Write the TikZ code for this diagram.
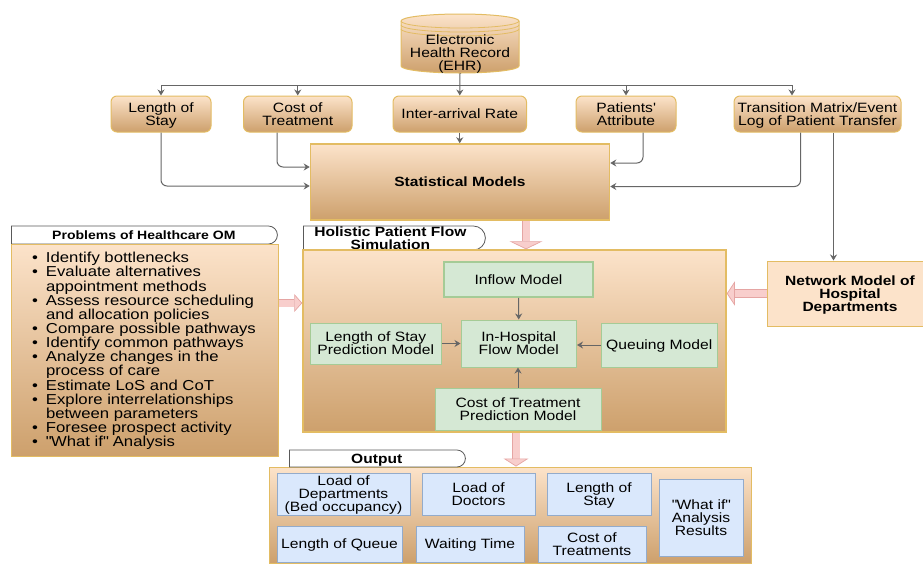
\documentclass[tikz,border=0pt]{standalone}
\usepackage{fontspec}
\setmainfont{Liberation Sans}[FakeStretch=1.16]
\usetikzlibrary{arrows.meta,shapes.misc}
\definecolor{goldline}{HTML}{E3BC63}
\definecolor{tantop}{HTML}{FCE3CA}
\definecolor{tanbot}{HTML}{CDA06C}
\definecolor{greenfill}{HTML}{D5E8D4}
\definecolor{greenline}{HTML}{A5CB96}
\definecolor{bluefill}{HTML}{DAE8FC}
\definecolor{blueline}{HTML}{93ABCB}
\definecolor{pinkfill}{HTML}{F8CECC}
\definecolor{pinkline}{HTML}{E5A5A3}
\definecolor{linkgrey}{HTML}{666666}
\newcommand{\bul}{\makebox[14pt][l]{\textbullet}}
\newcommand{\nobul}{\hspace*{14pt}}
\newcommand{\qt}{\textquotedbl}
\tikzset{
  txt/.style={inner sep=0pt,align=center,text depth=-3pt,font=\fontsize{13.5}{13}\selectfont},
  boldtxt/.style={font=\bfseries\fontsize{13.4}{13}\selectfont},
  tanbox/.style={txt,draw=goldline,top color=tantop,bottom color=tanbot,line width=1pt},
  topbox/.style={tanbox,rounded corners=6pt},
  greenbox/.style={txt,draw=greenline,fill=greenfill,line width=1pt},
  bluebox/.style={txt,draw=blueline,fill=bluefill,line width=1pt},
  tagbox/.style={txt,boldtxt,anchor=west,draw=black!65,fill=white,rounded rectangle,rounded rectangle west arc=none,line width=.8pt},
  wire/.style={draw=linkgrey,line width=1pt},
  link/.style={wire,->,>={Stealth[length=6pt,width=7pt]}},
  bendlink/.style={link,rounded corners=6pt},
  bigarrow/.style={draw=pinkline,double=pinkfill,line width=.7pt,double distance=7pt,-{Triangle[fill=pinkfill,color=pinkline,line width=.7pt,width=#1,length=8pt]}},
}
\begin{document}
\begin{tikzpicture}[x=1pt,y=-1pt]
    \useasboundingbox (0,0) rectangle (923,563);
    % database
    \path[draw=goldline,top color=tantop,bottom color=tanbot,line width=1pt] (401,21) arc[start angle=180,end angle=0,x radius=59pt,y radius=7pt] -- (519,66) arc[start angle=0,end angle=-180,x radius=59pt,y radius=7pt] -- cycle;
    \draw[goldline,line width=.8pt] (401,21) arc[start angle=180,end angle=360,x radius=59pt,y radius=7pt];
    \draw[goldline,line width=.8pt] (401,25) arc[start angle=180,end angle=360,x radius=59pt,y radius=7pt];
    \draw[goldline,line width=.8pt] (401,29) arc[start angle=180,end angle=360,x radius=59pt,y radius=7pt];
    \node[txt,text depth=-1pt,minimum width=118pt,minimum height=40pt] (ehr) at (460,53) {Electronic\\Health Record\\(EHR)};
    % first row
    \node[topbox,minimum width=100pt,minimum height=36pt] (lengthstay) at (161,114) {Length of\\Stay};
    \node[topbox,minimum width=108.5pt,minimum height=36pt] (costtreat) at (297.75,114) {Cost of\\Treatment};
    \node[topbox,minimum width=133.5pt,minimum height=36pt] (interarrival) at (459.75,114) {Inter-arrival Rate};
    \node[topbox,minimum width=100pt,minimum height=36pt] (patients) at (626,114) {Patients\textquotesingle\\Attribute};
    \node[topbox,minimum width=167pt,minimum height=36pt] (transition) at (817.5,114) {Transition Matrix/Event\\Log of Patient Transfer};
    \node[tanbox,boldtxt,line width=1.5pt,minimum width=299pt,minimum height=76pt] (stats) at (460,182) {Statistical Models};
    % problems
    \node[tagbox,font=\bfseries\fontsize{12.1}{13}\selectfont,text depth=-1pt,minimum width=266pt,minimum height=18pt] (problemstag) at (11,235) {Problems of Healthcare OM};
    \node[tanbox,align=left,text depth=1pt,minimum width=267pt,minimum height=212pt,font=\fontsize{14.4}{14.15}\selectfont] (problems) at (144.5,350) {\makebox[225pt][l]{\bul Identify bottlenecks}\\\bul Evaluate alternatives\\\nobul appointment methods\\\bul Assess resource scheduling\\\nobul and allocation policies\\\bul Compare possible pathways\\\bul Identify common pathways\\\bul Analyze changes in the\\\nobul process of care\\\bul Estimate LoS and CoT\\\bul Explore interrelationships\\\nobul between parameters\\\bul Foresee prospect activity\\\bul \qt What if\qt{} Analysis};
    % simulation
    \node[tagbox,text depth=-1pt,minimum width=182pt,minimum height=24pt] (simtag) at (303,238) {Holistic Patient Flow\\Simulation};
    \node[tanbox,line width=1.5pt,minimum width=423pt,minimum height=182pt] (sim) at (514.5,341) {};
    \node[greenbox,line width=1.5pt,minimum width=149pt,minimum height=35pt] (inflow) at (518.5,279.5) {Inflow Model};
    \node[greenbox,minimum width=115.5pt,minimum height=47pt] (inhospital) at (518.75,343.5) {In-Hospital\\Flow Model};
    \node[greenbox,minimum width=116.5pt,minimum height=44pt] (queuing) at (659.25,345) {Queuing Model};
    \node[greenbox,minimum width=131.5pt,minimum height=41pt] (staymodel) at (375.75,343.5) {Length of Stay\\Prediction Model};
    \node[greenbox,minimum width=166pt,minimum height=42pt] (costmodel) at (518,409) {Cost of Treatment\\Prediction Model};
    % network
    \node[txt,boldtxt,draw=goldline,fill=tantop,line width=1pt,minimum width=166pt,minimum height=65pt] (network) at (850,293.5) {Network Model of\\Hospital\\Departments};
    % output
    \node[tanbox,minimum width=482pt,minimum height=96pt] (output) at (510,515) {};
    \node[tagbox,minimum width=176pt,minimum height=17pt] (outputtag) at (289,458.5) {Output};
    \node[bluebox,minimum width=133pt,minimum height=42pt] (loaddept) at (343.5,494) {Load of\\Departments\\(Bed occupancy)};
    \node[bluebox,minimum width=113pt,minimum height=42pt] (loaddoc) at (478.5,494) {Load of\\Doctors};
    \node[bluebox,minimum width=104pt,minimum height=42pt] (outstay) at (599,494) {Length of\\Stay};
    \node[bluebox,minimum width=84pt,minimum height=77pt] (whatif) at (701,517.5) {\qt What if\qt\\Analysis\\Results};
    \node[bluebox,minimum width=125pt,minimum height=36pt] (queue) at (339.5,544) {Length of Queue};
    \node[bluebox,minimum width=108pt,minimum height=36pt] (waiting) at (470,544) {Waiting Time};
    \node[bluebox,minimum width=108pt,minimum height=36pt] (outcost) at (592,544) {Cost of\\Treatments};
    % links
    \coordinate (bus) at (460,85);
    \coordinate (busend) at ([xshift=-25.5pt]transition.north);
    \coordinate (drop) at ([xshift=16pt]transition.south);
    \draw[wire] (bus -| lengthstay.north) -- (bus -| busend);
    \draw[link] (ehr.south) -- (interarrival.north);
    \draw[link] (bus -| lengthstay.north) -- (lengthstay.north);
    \draw[link] (bus -| costtreat.north) -- (costtreat.north);
    \draw[link] (bus -| patients.north) -- (patients.north);
    \draw[link] (bus -| busend) -- (busend);
    \draw[link] (interarrival.south) -- (stats.north -| interarrival.south);
    \draw[bendlink] (lengthstay.south) |- ([yshift=-4pt]stats.west);
    \draw[bendlink] ([xshift=-20.75pt]costtreat.south) |- ([yshift=15pt]stats.west);
    \draw[bendlink] ([xshift=17pt]patients.south) |- ([yshift=19pt]stats.east);
    \draw[bendlink] ([xshift=-17pt]transition.south) |- ([yshift=-4.5pt]stats.east);
    \draw[link] (drop) -- (drop |- network.north);
    \draw[link] (inflow.south) -- (inhospital.north);
    \draw[link] (staymodel.east) -- (inhospital.west);
    \draw[link] (queuing.west) -- (inhospital.east |- queuing.west);
    \draw[link] (costmodel.north) -- (inhospital.south -| costmodel.north);
    % block arrows
    \draw[bigarrow=33pt] ([xshift=66pt]stats.south) -- ([xshift=11.5pt]sim.north);
    \draw[bigarrow=18pt] ([yshift=47pt]problems.east) -- ([yshift=38pt]sim.west);
    \draw[bigarrow=24pt] (network.west) -- (sim.east |- network.west);
    \draw[bigarrow=25pt] ([xshift=1.5pt]sim.south) -- ([xshift=6pt]output.north);
\end{tikzpicture}
\end{document}
